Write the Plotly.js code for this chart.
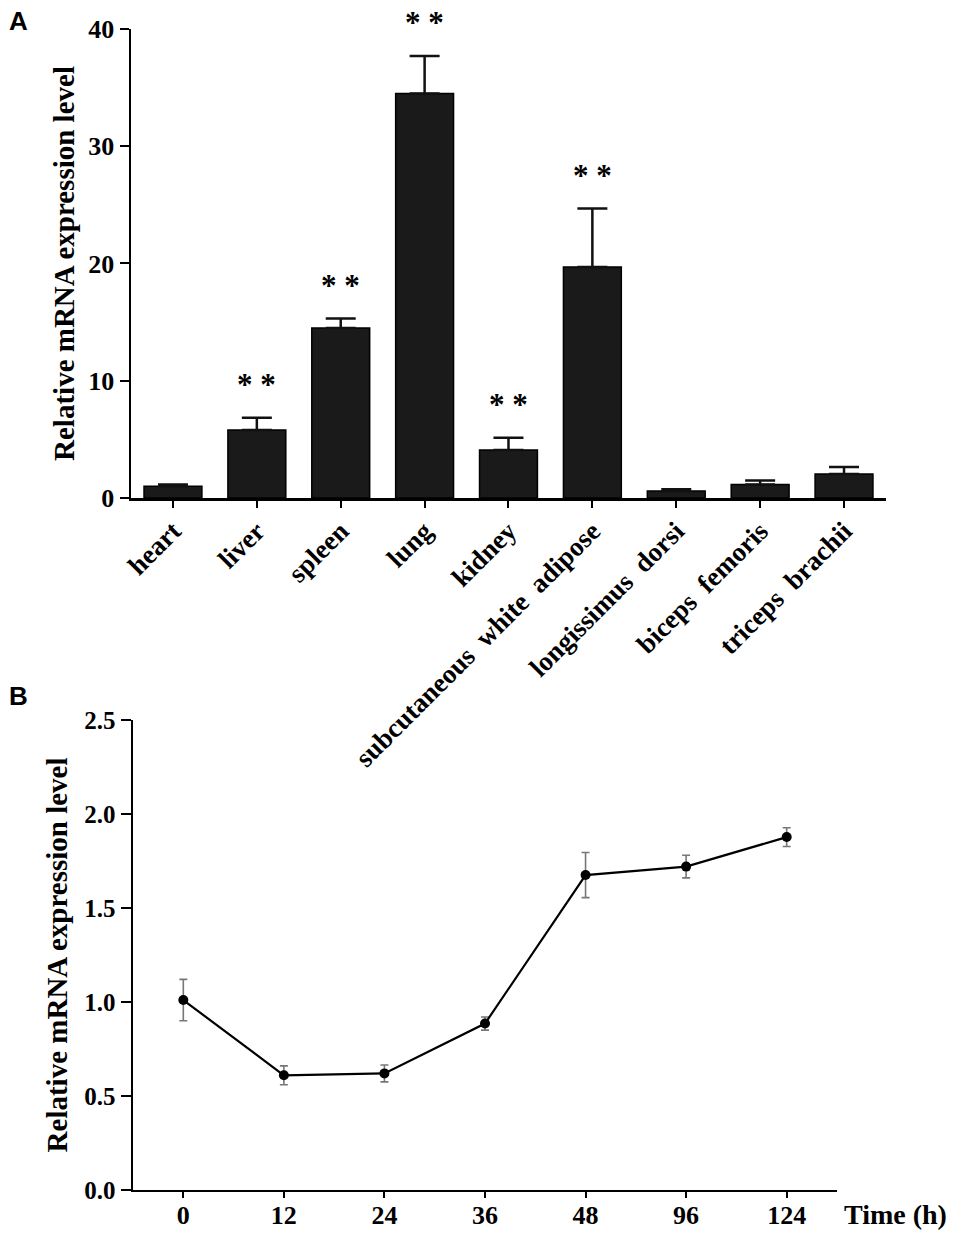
<!DOCTYPE html>
<html>
<head>
<meta charset="utf-8">
<script src="https://cdn.plot.ly/plotly-3.0.1.min.js"></script>
<style>html,body{margin:0;padding:0;background:#fff;}#chart{width:955px;height:1233px;}</style>
</head>
<body>
<div id="chart"></div>
<script>
// Panel A: tissue expression
const tissues = ["heart", "liver", "spleen", "lung", "kidney",
  "subcutaneous\u00a0 white\u00a0 adipose", "longissimus\u00a0 dorsi",
  "biceps\u00a0 femoris", "triceps\u00a0 brachii"];
const tissueValues = [1.0, 5.8, 14.5, 34.5, 4.1, 19.7, 0.6, 1.15, 2.05];
const tissueErrors = [0.15, 1.05, 0.8, 3.2, 1.05, 5.0, 0.15, 0.35, 0.6];
const significant = [false, true, true, true, true, true, false, false, false];
const sigLabel = "* *";

// Panel B: time course
const timeLabels = ["0", "12", "24", "36", "48", "96", "124"];
const timeValues = [1.01, 0.61, 0.62, 0.885, 1.675, 1.72, 1.877];
const timeErrors = [0.11, 0.05, 0.045, 0.035, 0.12, 0.06, 0.05];

const serif = "Liberation Serif, Times New Roman, serif";
const sans = "Liberation Sans, Arial, sans-serif";

const traces = [
  {
    type: "bar", x: tissues, y: tissueValues, xaxis: "x", yaxis: "y",
    width: 0.69,
    marker: {color: "#1a1a1a", line: {color: "#000", width: 1.5}},
    error_y: {type: "data", symmetric: false, array: tissueErrors,
      arrayminus: tissueErrors.map(() => 0), color: "#111", thickness: 2.5, width: 15},
    hoverinfo: "x+y"
  },
  {
    type: "scatter", mode: "lines+markers", x: timeLabels, y: timeValues,
    xaxis: "x2", yaxis: "y2",
    line: {color: "#000", width: 2.2},
    marker: {color: "#000", size: 10},
    error_y: {type: "data", array: timeErrors, color: "#777", thickness: 1.6, width: 4}
  }
];

const annotations = [];
tissues.forEach((t, i) => {
  if (significant[i]) {
    annotations.push({
      xref: "x", yref: "y", x: t, y: tissueValues[i] + tissueErrors[i],
      text: sigLabel, showarrow: false, yanchor: "middle", yshift: 33,
      font: {family: serif, size: 31, color: "#000", weight: "bold"}
    });
  }
});
annotations.push(
  {xref: "paper", yref: "paper", x: 0.007, y: 0.997, xanchor: "left", yanchor: "top",
   text: "A", showarrow: false, font: {family: sans, size: 26, color: "#000", weight: "bold"}},
  {xref: "paper", yref: "paper", x: 0.007, y: 0.4496, xanchor: "left", yanchor: "top",
   text: "B", showarrow: false, font: {family: sans, size: 26, color: "#000", weight: "bold"}},
  {xref: "paper", yref: "paper", x: 0.882, y: 0.0146, xanchor: "left", yanchor: "middle",
   text: "Time (h)", showarrow: false, font: {family: serif, size: 28, color: "#000", weight: "bold"}}
);

const axisCommon = {
  showline: true, linecolor: "#000", linewidth: 2.5, showgrid: false, zeroline: false,
  ticks: "outside", tickcolor: "#000", tickwidth: 2, fixedrange: true
};

const layout = {
  width: 955, height: 1233,
  margin: {l: 0, r: 0, t: 0, b: 0},
  paper_bgcolor: "#fff", plot_bgcolor: "#fff",
  showlegend: false,
  xaxis: Object.assign({}, axisCommon, {
    domain: [0.1372, 0.9277], anchor: "y", type: "category", range: [-0.5, 8.5],
    ticklen: 7, tickangle: -45, automargin: false, ticklabelstandoff: -3,
    tickfont: {family: serif, size: 27, color: "#000", weight: "bold"}
  }),
  yaxis: Object.assign({}, axisCommon, {
    domain: [0.5961, 0.9765], anchor: "x", range: [0, 40], dtick: 10, ticklen: 9,
    automargin: false,
    tickfont: {family: serif, size: 26, color: "#000", weight: "bold"},
    title: {text: "Relative mRNA expression level", standoff: 5,
      font: {family: serif, size: 29, color: "#000", weight: "bold"}}
  }),
  xaxis2: Object.assign({}, axisCommon, {
    domain: [0.1393, 0.8764], anchor: "y2", type: "category", range: [-0.5, 6.5],
    ticklen: 6, automargin: false, ticklabelstandoff: -6,
    tickfont: {family: serif, size: 26, color: "#000", weight: "bold"}
  }),
  yaxis2: Object.assign({}, axisCommon, {
    domain: [0.0349, 0.4161], anchor: "x2", range: [0, 2.5], dtick: 0.5, tickformat: ".1f",
    ticklen: 10, automargin: false,
    tickfont: {family: serif, size: 25, color: "#000", weight: "bold"},
    title: {text: "Relative mRNA expression level", standoff: 8,
      font: {family: serif, size: 29, color: "#000", weight: "bold"}}
  }),
  annotations: annotations
};

Plotly.newPlot("chart", traces, layout, {displayModeBar: false, staticPlot: true});
</script>
</body>
</html>
